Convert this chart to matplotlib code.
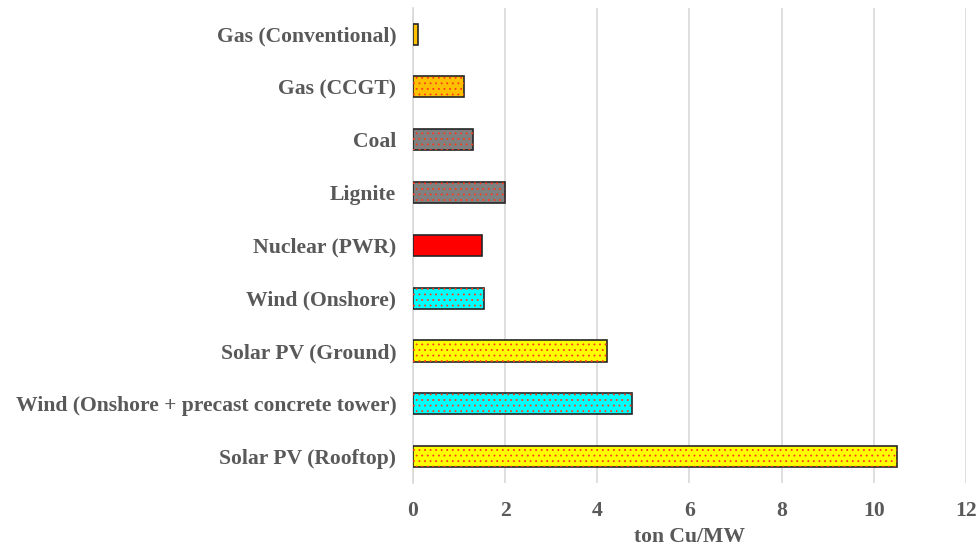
import matplotlib
matplotlib.use("Agg")
import matplotlib.pyplot as plt

categories = ["Gas (Conventional)", "Gas (CCGT)", "Coal", "Lignite", "Nuclear (PWR)",
              "Wind (Onshore)", "Solar PV (Ground)",
              "Wind (Onshore + precast concrete tower)", "Solar PV (Rooftop)"]
values = [0.1, 1.1, 1.3, 2.0, 1.5, 1.55, 4.2, 4.75, 10.5]
colors = ["#FFC000", "#FFC000", "#808080", "#808080", "#FF0000",
          "#00FFFF", "#FFFF00", "#00FFFF", "#FFFF00"]
hatched = [False, True, True, True, False, True, True, True, True]

plt.rcParams['font.family'] = ['Liberation Serif', 'DejaVu Serif']
plt.rcParams['hatch.linewidth'] = 0.6

fig = plt.figure(figsize=(9.77, 5.47), dpi=100)
ax = fig.add_axes([0.4227, 0.117, 0.566, 0.869])

ypos = list(range(len(categories)))
ax.barh(ypos, values, height=0.4, color=colors, edgecolor="#262626", linewidth=1.2, zorder=3)
for y, v, h in zip(ypos, values, hatched):
    if h:
        ax.barh(y, v, height=0.4, color="none", edgecolor="#FF3A1A", hatch="...",
                linewidth=0, zorder=4)
ax.set_ylim(8.5, -0.5)
ax.set_xlim(0, 12)
ax.set_xticks([0, 2, 4, 6, 8, 10, 12])
ax.set_yticks(ypos)
ax.set_yticklabels(categories)
ax.grid(axis='x', color="#D9D9D9", linewidth=1.2, zorder=0)
for s in ["top", "right", "bottom"]:
    ax.spines[s].set_visible(False)
ax.spines["left"].set_color("#D9D9D9")
ax.spines["left"].set_linewidth(1.2)
ax.tick_params(axis='both', length=0, labelsize=15.6, labelcolor="#595959")
ax.tick_params(axis='x', pad=13)
ax.tick_params(axis='y', pad=12)
for lab in ax.get_xticklabels() + ax.get_yticklabels():
    lab.set_fontweight('bold')
ax.set_xlabel("ton Cu/MW", fontsize=15.6, fontweight='bold', color="#595959", labelpad=4)

fig.savefig("out.png", dpi=100)
